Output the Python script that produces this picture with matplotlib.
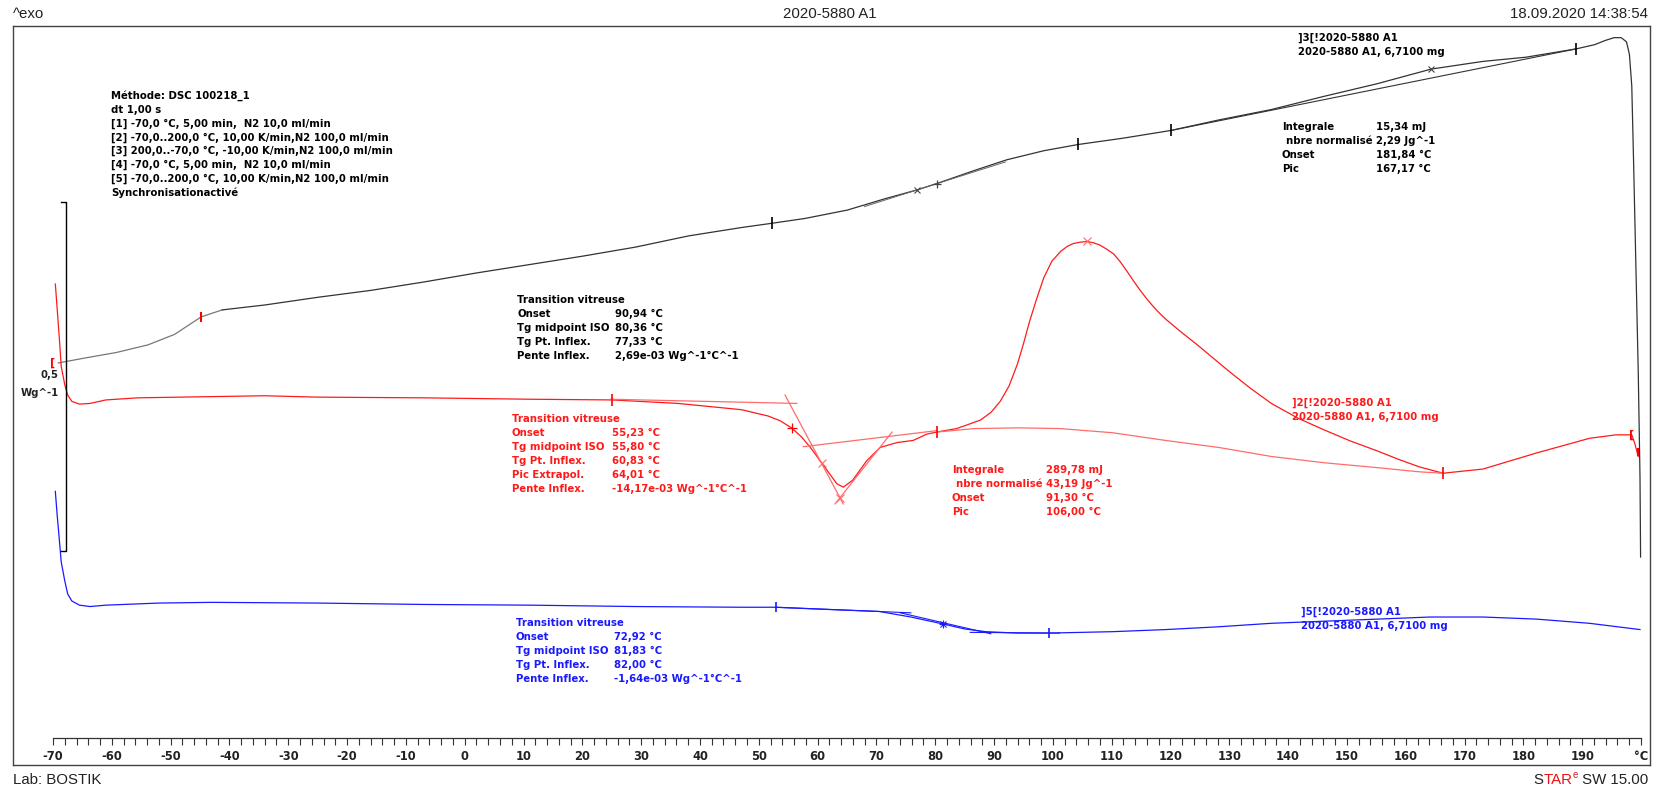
import matplotlib.pyplot as plt
from matplotlib.ticker import MultipleLocator, FixedLocator

W, H = 1661, 790

# segment [3] (black) - temperature in °C, heat flow in Wg^-1 (offset, exo up)
black_T = [-69.1, -64.6, -59.2, -53.8, -49.3, -44.8, -41.2, -34.0, -25.0, -15.9,
           -6.9, 2.1, 11.1, 20.1, 29.1, 38.1, 47.1, 52.2, 57.9, 65.1,
           71.4, 77.0, 80.3, 86.8, 92.2, 98.5, 104.4, 112.0, 120.1, 128.2,
           137.2, 146.2, 155.2, 164.4, 173.2, 180.5, 189.1, 192.2, 194.0, 195.5,
           196.7, 197.6, 198.1, 198.5, 198.8, 199.2, 199.6, 199.9, 200.0]
black_hf = [0.576, 0.583, 0.591, 0.602, 0.617, 0.642, 0.652, 0.659, 0.670, 0.680,
            0.692, 0.705, 0.717, 0.729, 0.742, 0.758, 0.770, 0.776, 0.783, 0.795,
            0.811, 0.824, 0.833, 0.852, 0.867, 0.880, 0.889, 0.898, 0.909, 0.924,
            0.939, 0.958, 0.976, 0.997, 1.008, 1.014, 1.026, 1.032, 1.038, 1.042,
            1.042, 1.036, 1.018, 0.973, 0.867, 0.715, 0.564, 0.412, 0.298]
black_base_T = [120.1, 189.1]
black_base_hf = [0.909, 1.026]
black_tan_T = [68.0, 92.0]
black_tan_hf = [0.800, 0.864]
black_lim_T = [52.2, 104.4, 120.1, 189.1]
black_lim_hf = [0.776, 0.889, 0.909, 1.026]
black_x_T = [77.0, 164.4]
black_x_hf = [0.824, 0.997]

# segment [2] (red)
red_T = [-69.6, -69.3, -68.9, -68.6, -68.0, -67.5, -66.8, -65.5, -63.7, -61.0,
         -55.6, -48.4, -34.0, -25.0, -6.9, 11.1, 25.1, 36.3, 47.1, 51.6,
         53.7, 55.6, 57.3, 58.8, 60.8, 63.3, 64.4, 66.0, 68.4, 70.7,
         73.6, 76.3, 78.6, 80.3, 83.7, 87.7, 89.5, 91.1, 92.6, 94.0,
         95.0, 96.1, 97.3, 98.5, 99.9, 101.4, 102.5, 103.5, 104.7, 105.9,
         107.0, 108.0, 109.2, 110.4, 111.5, 112.6, 113.8, 114.9, 116.0, 117.0,
         118.1, 119.2, 121.9, 124.6, 127.3, 130.0, 133.6, 137.2, 141.7, 146.2,
         150.7, 155.2, 158.8, 162.4, 166.4, 173.2, 182.3, 191.3, 195.8, 198.5,
         199.0, 199.6]
red_hf = [0.689, 0.655, 0.609, 0.571, 0.545, 0.530, 0.521, 0.517, 0.518, 0.523,
          0.526, 0.527, 0.529, 0.527, 0.526, 0.524, 0.523, 0.518, 0.509, 0.500,
          0.493, 0.483, 0.470, 0.455, 0.432, 0.403, 0.398, 0.408, 0.436, 0.455,
          0.462, 0.465, 0.474, 0.477, 0.482, 0.494, 0.505, 0.521, 0.543, 0.574,
          0.602, 0.636, 0.668, 0.698, 0.722, 0.736, 0.743, 0.747, 0.749, 0.750,
          0.748, 0.745, 0.739, 0.732, 0.721, 0.708, 0.693, 0.680, 0.668, 0.658,
          0.648, 0.639, 0.620, 0.602, 0.583, 0.564, 0.540, 0.518, 0.497, 0.480,
          0.464, 0.450, 0.438, 0.427, 0.418, 0.424, 0.447, 0.468, 0.473, 0.473,
          0.461, 0.442]
red_base_T = [80.3, 86.8, 94.0, 101.2, 110.2, 119.2, 128.2, 137.2, 146.2, 155.2, 162.4, 166.4]
red_base_hf = [0.477, 0.482, 0.483, 0.482, 0.476, 0.465, 0.455, 0.442, 0.433, 0.426, 0.420, 0.418]
red_tangents = [([24.8, 56.5], [0.524, 0.518]),
                ([54.5, 64.4], [0.530, 0.374]),
                ([63.0, 72.7], [0.374, 0.477]),
                ([57.6, 80.3], [0.456, 0.479])]
red_lim_T = [25.1, 80.3, 166.4]
red_lim_hf = [0.523, 0.477, 0.418]

# segment [5] (blue)
blue_T = [-69.6, -69.3, -68.9, -68.6, -68.0, -67.5, -66.8, -65.5, -63.7, -61.0,
          -52.0, -43.0, -25.0, -6.9, 11.1, 29.1, 47.1, 52.9, 61.5, 70.5,
          75.9, 81.4, 85.0, 88.6, 94.0, 99.4, 110.2, 119.2, 128.2, 137.2,
          146.2, 155.2, 164.2, 173.2, 182.3, 191.3, 199.9]
blue_hf = [0.392, 0.359, 0.321, 0.291, 0.264, 0.245, 0.235, 0.229, 0.227, 0.229,
           0.232, 0.233, 0.232, 0.230, 0.229, 0.227, 0.226, 0.226, 0.223, 0.220,
           0.212, 0.202, 0.195, 0.191, 0.189, 0.189, 0.191, 0.194, 0.198, 0.203,
           0.206, 0.209, 0.212, 0.212, 0.209, 0.203, 0.194]
blue_tangents = [([52.9, 75.9], [0.226, 0.218]),
                 ([86.0, 101.2], [0.190, 0.189]),
                 ([74.1, 89.5], [0.218, 0.188])]
blue_lim_T = [52.9, 99.4]
blue_lim_hf = [0.226, 0.189]

ruler_ticks = list(range(-70, 201, 10))
ruler_labels = [str(t) for t in ruler_ticks[:-1]] + ['°C']

method_lines = ["Méthode: DSC 100218_1",
                "dt 1,00 s",
                "[1] -70,0 °C, 5,00 min,  N2 10,0 ml/min",
                "[2] -70,0..200,0 °C, 10,00 K/min,N2 100,0 ml/min",
                "[3] 200,0..-70,0 °C, -10,00 K/min,N2 100,0 ml/min",
                "[4] -70,0 °C, 5,00 min,  N2 10,0 ml/min",
                "[5] -70,0..200,0 °C, 10,00 K/min,N2 100,0 ml/min",
                "Synchronisationactivé"]
black_tg = [("Transition vitreuse", ""), ("Onset", "90,94 °C"),
            ("Tg midpoint ISO", "80,36 °C"), ("Tg Pt. Inflex.", "77,33 °C"),
            ("Pente Inflex.", "2,69e-03 Wg^-1°C^-1")]
black_peak = [("Integrale", "15,34 mJ"), (" nbre normalisé", "2,29 Jg^-1"),
              ("Onset", "181,84 °C"), ("Pic", "167,17 °C")]
red_tg = [("Transition vitreuse", ""), ("Onset", "55,23 °C"),
          ("Tg midpoint ISO", "55,80 °C"), ("Tg Pt. Inflex.", "60,83 °C"),
          ("Pic Extrapol.", "64,01 °C"), ("Pente Inflex.", "-14,17e-03 Wg^-1°C^-1")]
red_peak = [("Integrale", "289,78 mJ"), (" nbre normalisé", "43,19 Jg^-1"),
            ("Onset", "91,30 °C"), ("Pic", "106,00 °C")]
blue_tg = [("Transition vitreuse", ""), ("Onset", "72,92 °C"),
           ("Tg midpoint ISO", "81,83 °C"), ("Tg Pt. Inflex.", "82,00 °C"),
           ("Pente Inflex.", "-1,64e-03 Wg^-1°C^-1")]
curve_name = ["]{}[!2020-5880 A1", "2020-5880 A1, 6,7100 mg"]

BLACK = '#333333'
RED = '#ff1a1a'
RED_L = '#ff6b6b'
BLUE = '#1a1aff'

fig = plt.figure(figsize=(W / 100, H / 100), dpi=100)
ann = dict(family='DejaVu Sans', weight='bold', fontsize=7.3)
hdr = dict(family='Liberation Sans', fontsize=10.8, color='#222222')


def ftext(x, y, s, **kw):
    return fig.text(x / W, 1 - y / H, s, va='center', **kw)


def block(x, xv, y0, rows, color, step=13.9):
    for i, (a, b) in enumerate(rows):
        indent = 4 if a.startswith(' ') else 0
        ftext(x + indent, y0 + i * step, a.strip(), color=color, **ann)
        if b:
            ftext(xv, y0 + i * step, b, color=color, **ann)


# frame / plot area
ax = fig.add_axes([13 / W, 25 / H, 1637 / W, 739 / H])
ax.set_xlim(-76.80, 201.60)
ax.set_ylim(0, 1.0587)
ax.set_xticks([])
ax.set_yticks([])
for s in ax.spines.values():
    s.set_color('#444444')
    s.set_linewidth(1.0)

lw = 0.9
ax.plot(black_T[:7], black_hf[:7], color='#777777', lw=lw)
ax.plot(black_T[6:], black_hf[6:], color=BLACK, lw=lw)
ax.plot(black_base_T, black_base_hf, color=BLACK, lw=0.8)
ax.plot(black_tan_T, black_tan_hf, color='#666666', lw=0.7)
ax.plot(black_lim_T, black_lim_hf, ls='none', marker='|', ms=8, mew=1.2, color='black')
ax.plot(black_x_T, black_x_hf, ls='none', marker='x', ms=5, mew=0.8, color='#444444')
ax.plot([80.3], [0.833], ls='none', marker='+', ms=6, mew=0.9, color='#444444')
ax.text(-70.0, 0.576, '[', color='red', fontsize=8, weight='bold', ha='center', va='center')
ax.plot([-44.8], [0.642], ls='none', marker='|', ms=7, mew=1.5, color='red')

ax.plot(red_T, red_hf, color=RED, lw=lw)
ax.plot(red_base_T, red_base_hf, color=RED_L, lw=0.9)
for tx, ty in red_tangents:
    ax.plot(tx, ty, color=RED_L, lw=0.9)
ax.plot(red_lim_T, red_lim_hf, ls='none', marker='|', ms=8, mew=1.2, color='red')
ax.plot([55.6], [0.483], ls='none', marker='+', ms=7, mew=0.9, color='red')
ax.plot([60.8, 63.9, 105.9], [0.432, 0.383, 0.750], ls='none', marker='x', ms=6, mew=0.8, color=RED_L)
ax.text(198.5, 0.473, '[', color='red', fontsize=8, weight='bold', ha='center', va='center')
ax.plot([199.6], [0.448], ls='none', marker='|', ms=6, mew=1.5, color='red')

ax.plot(blue_T, blue_hf, color=BLUE, lw=lw)
for tx, ty in blue_tangents:
    ax.plot(tx, ty, color=BLUE, lw=0.8)
ax.plot(blue_lim_T, blue_lim_hf, ls='none', marker='|', ms=7, mew=1.2, color=BLUE)
ax.plot([81.4], [0.202], ls='none', marker='x', ms=5, mew=0.8, color=BLUE)
ax.plot([81.4], [0.202], ls='none', marker='+', ms=6, mew=0.8, color=BLUE)

# scale bar 0,5 Wg^-1
ax.plot([-68.6, -67.8, -67.8, -68.6], [0.806, 0.806, 0.306, 0.306], color='black', lw=1.0)
ax.text(-69.0, 0.559, '0,5', ha='right', va='center', color='#222222', **ann)
ax.text(-69.0, 0.533, 'Wg^-1', ha='right', va='center', color='#222222', **ann)

# temperature ruler
rax = fig.add_axes([53 / W, (H - 738) / H, 1588 / W, 0.0001])
rax.set_xlim(-70, 200)
rax.set_ylim(0, 1)
rax.patch.set_visible(False)
for s in ['top', 'left', 'right']:
    rax.spines[s].set_visible(False)
rax.spines['bottom'].set_color('#333333')
rax.spines['bottom'].set_linewidth(0.9)
rax.set_yticks([])
rax.xaxis.set_major_locator(FixedLocator(ruler_ticks))
rax.set_xticklabels(ruler_labels)
rax.xaxis.set_minor_locator(MultipleLocator(2))
rax.tick_params(axis='x', which='both', direction='out', length=5, width=0.8, color='#333333')
rax.tick_params(axis='x', which='major', pad=4)
for lab in rax.get_xticklabels():
    lab.set_fontfamily('DejaVu Sans')
    lab.set_fontweight('bold')
    lab.set_fontsize(8.3)
    lab.set_color('#222222')

# annotations
for i, line in enumerate(method_lines):
    ftext(111, 96 + i * 13.8, line, color='black', **ann)
block(517, 615, 300, black_tg, 'black')
block(512, 612, 419, red_tg, RED)
block(952, 1046, 470, red_peak, RED)
block(1282, 1376, 127, black_peak, 'black')
block(516, 614, 623, blue_tg, BLUE)
for i, line in enumerate(curve_name):
    ftext(1298, 38 + i * 14, line.format(3), color='black', **ann)
    ftext(1292, 403 + i * 14, line.format(2), color=RED, **ann)
    ftext(1301, 612 + i * 14, line.format(5), color=BLUE, **ann)

# header / footer
ftext(13, 14, '^exo', ha='left', **hdr)
ftext(830, 14, '2020-5880 A1', ha='center', **hdr)
ftext(1648, 14, '18.09.2020 14:38:54', ha='right', **hdr)
ftext(13, 780, 'Lab: BOSTIK', ha='left', **hdr)
sw = ftext(1648, 780, ' SW 15.00', ha='right', **hdr)
fig.canvas.draw()
r = fig.canvas.get_renderer()
x_right = sw.get_window_extent(r).x0
e = fig.text(x_right / W, 1 - 775 / H, 'e', ha='right', va='center',
             family='Liberation Sans', fontsize=7, color='#cc2222')
x_right = e.get_window_extent(r).x0
tar = fig.text(x_right / W, 1 - 780 / H, 'TAR', ha='right', va='center',
               family='Liberation Sans', fontsize=10.8, color='#ee1111')
x_right = tar.get_window_extent(r).x0
fig.text(x_right / W, 1 - 780 / H, 'S', ha='right', va='center', **hdr)

fig.savefig('out.png', dpi=100)
